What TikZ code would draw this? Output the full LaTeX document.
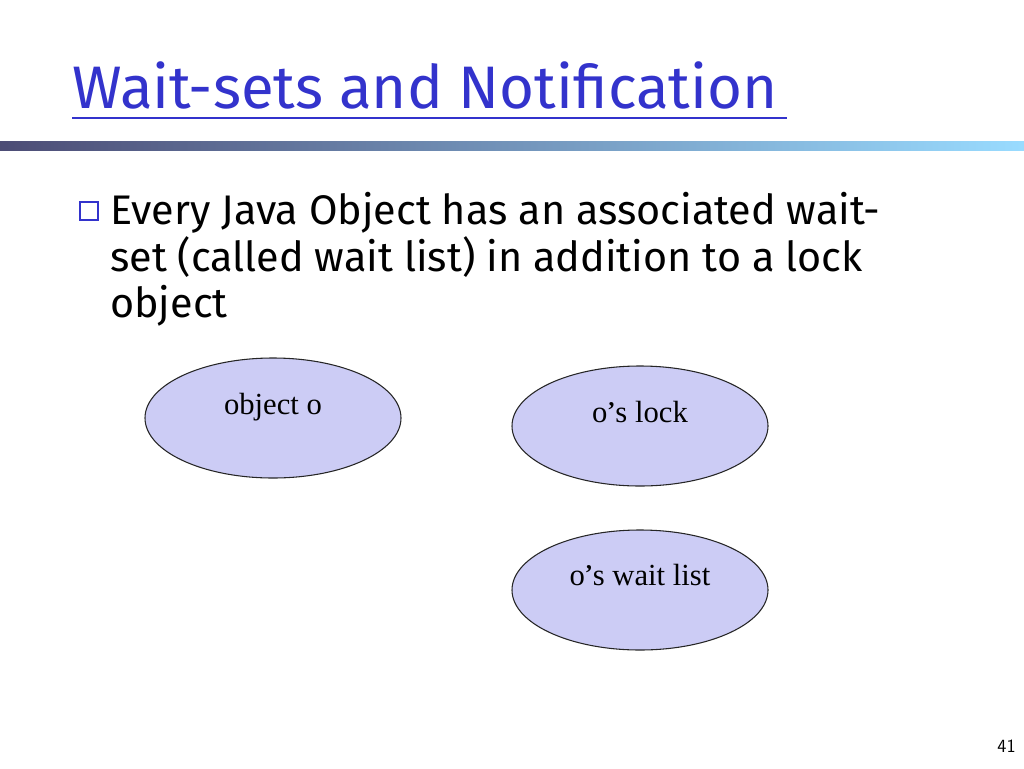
\documentclass[tikz,border=0pt]{standalone}
\usepackage{fontspec}
\setmainfont{Liberation Serif}
\newfontfamily\comic{Fira Sans}
\usetikzlibrary{shapes.geometric}
\definecolor{ttl}{HTML}{3333CC}
\definecolor{ellfill}{HTML}{CCCCF5}
\tikzset{ell/.style={draw=black!85,fill=ellfill,ellipse,minimum width=256*0.75pt,minimum height=120*0.75pt,line width=0.8pt},
lbl/.style={font=\fontsize{23}{26}\selectfont,anchor=base},
bodyl/.style={anchor=base west,inner sep=0,font=\comic\fontsize{31}{35}\selectfont}}
\newcommand\apos{\raisebox{3pt}{\fontsize{18}{18}\selectfont\bfseries ’}}
\begin{document}
\begin{tikzpicture}[x=0.75pt,y=-0.75pt]
\useasboundingbox (0,0) rectangle (1024,768);
\node[anchor=base west,inner sep=0,text=ttl,font=\comic\fontsize{45}{50}\selectfont] (title) at (72,108) {Wait-sets and Notification};
\draw[ttl,line width=1.2pt] (72,118) -- (787,118);
\shade[left color=black!60!blue!40!gray,right color=blue!35!cyan!40] (0,141) rectangle (1024,150);
\node[draw=ttl,line width=1pt,minimum size=13.5pt,inner sep=0] (bul) at (89,211) {};
\node[bodyl] (b1) at (110,224) {Every Java Object has an associated wait-};
\node[bodyl] (b2) at (110,271) {set (called wait list) in addition to a lock};
\node[bodyl] (b3) at (110,317) {object};
\node[ell] (obj) at (273,418) {};
\node[lbl] (objt) at (273,414) {object o};
\node[ell] (lock) at (640,426) {};
\node[lbl] (lockt) at (640,422) {o\apos s lock};
\node[ell] (wait) at (640,590) {};
\node[lbl] (waitt) at (640,585) {o\apos s wait list};
\node[anchor=base east,inner sep=0,font=\sffamily\fontsize{14}{16}\selectfont] (pg) at (1016,752) {41};
\end{tikzpicture}
\end{document}
